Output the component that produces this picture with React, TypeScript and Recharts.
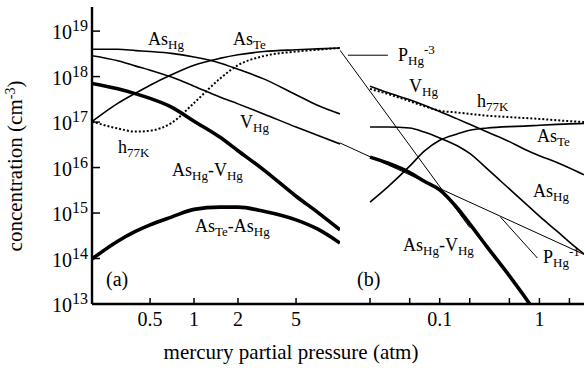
import { Line, LineChart, ReferenceLine, XAxis, YAxis } from 'recharts';

const FONT = '"Liberation Serif", "Times New Roman", serif';

// panel (a): mercury partial pressure (atm)
const pressureA = [0.2, 0.3, 0.4, 0.5, 0.7, 1, 1.5, 2, 3, 5, 7, 10];
// log10 of the concentration (cm-3)
const asHgA = [18.6, 18.6, 18.57, 18.55, 18.51, 18.43, 18.3, 18.16, 17.95, 17.6, 17.37, 17.18];
const asTeA = [17.01, 17.41, 17.64, 17.81, 18.04, 18.25, 18.4, 18.48, 18.55, 18.59, 18.61, 18.63];
const vHgA = [18.46, 18.35, 18.23, 18.14, 17.99, 17.79, 17.55, 17.4, 17.18, 16.89, 16.71, 16.52];
const h77A = [17.01, 16.86, 16.79, 16.81, 16.98, 17.42, 17.95, 18.25, 18.45, 18.55, 18.59, 18.63];
const asVA = [17.85, 17.73, 17.62, 17.52, 17.33, 17.02, 16.67, 16.37, 15.95, 15.37, 15.02, 14.63];
const asAsA = [13.99, 14.38, 14.6, 14.74, 14.91, 15.08, 15.13, 15.13, 15.04, 14.85, 14.65, 14.34];

// panel (b)
const pressureB = [0.02, 0.03, 0.05, 0.07, 0.1, 0.15, 0.2, 0.3, 0.5, 0.7, 1, 1.5, 2, 2.8];
const vHgB = [17.79, 17.65, 17.49, 17.37, 17.23, 17.07, 16.95, 16.78, 16.57, 16.41, 16.26, 16.11, 15.99, 15.84];
const h77B = [17.73, 17.62, 17.46, 17.35, 17.25, 17.21, 17.18, 17.14, 17.11, 17.09, 17.07, 17.04, 17.02, 17.0];
const asHgB = [16.89, 16.89, 16.87, 16.78, 16.65, 16.48, 16.31, 15.97, 15.53, 15.24, 14.93, 14.6, 14.36, 14.1];
const asTeB = [15.24, 15.57, 16.03, 16.36, 16.6, 16.74, 16.82, 16.87, 16.9, 16.91, 16.93, 16.95, 16.96, 16.97];
const pressureAsVB = [0.02, 0.03, 0.05, 0.07, 0.1, 0.15, 0.2, 0.3, 0.5, 0.7, 0.8];
const asVB = [16.23, 16.1, 15.89, 15.7, 15.51, 15.11, 14.76, 14.25, 13.62, 13.18, 13.0];
const pressureP3 = [0.01, 0.2];
const p3 = [18.58, 14.68];
const pressureP1 = [0.01, 2.8];
const p1 = [16.54, 14.09];

const decadeTicks = [1e13, 1e14, 1e15, 1e16, 1e17, 1e18, 1e19];
const ticksA = [0.5, 1, 2, 5];
const ticksB = [0.02, 0.05, 0.1, 0.2, 0.5, 1, 2];
const labelsB = [0.1, 1];

const Y_DOMAIN: [number, number] = [1e13, Math.pow(10, 19.53)];

function rows(xs: number[], exps: number[]) {
  return xs.map((p, i) => ({ p, c: Math.pow(10, exps[i]) }));
}

const AXIS = { stroke: '#000', strokeWidth: 2.4 };
const TICK = { stroke: '#000', strokeWidth: 1.5 };
const blank = () => '';

function PowTick(props: any) {
  const { x, y, payload } = props;
  const e = Math.round(Math.log10(payload.value));
  return (
    <text x={x} y={y + 8} textAnchor="end" fontFamily={FONT} fontSize={20} fill="#000">
      10
      <tspan dy={-8} fontSize={16}>
        {e}
      </tspan>
    </text>
  );
}

type Part = [string, 'n' | 'sub' | 'sup'];

function Label({ x, y, parts, size = 18 }: { x: number; y: number; parts: Part[]; size?: number }) {
  let shift = 0;
  return (
    <text x={x} y={y} fontSize={size} fontFamily={FONT} fill="#000">
      {parts.map(([t, k], i) => {
        const target = k === 'sub' ? 4 : k === 'sup' ? -7 : 0;
        const dy = target - shift;
        shift = target;
        return (
          <tspan key={i} dy={dy} fontSize={k === 'n' ? size : Math.round(size * 0.7)}>
            {t}
          </tspan>
        );
      })}
    </text>
  );
}

const thin = { stroke: '#000', strokeWidth: 1.6, dot: false, isAnimationActive: false } as const;
const thick = { stroke: '#000', strokeWidth: 3.6, dot: false, isAnimationActive: false } as const;
const dotted = { stroke: '#000', strokeWidth: 2, strokeDasharray: '2 2', dot: false, isAnimationActive: false } as const;
const hair = { stroke: '#000', strokeWidth: 1, dot: false, isAnimationActive: false } as const;

export default function App() {
  return (
    <div style={{ position: 'absolute', left: 0, top: 0, width: 585, height: 379, background: '#fff' }}>
      <div style={{ position: 'absolute', left: 0, top: 0 }}>
        <LineChart width={341} height={379} margin={{ top: 7, right: 1, left: 0, bottom: 0 }}>
          <XAxis
            xAxisId="b"
            dataKey="p"
            type="number"
            scale="log"
            domain={[0.2, 10]}
            allowDataOverflow
            ticks={ticksA}
            interval={0}
            height={75}
            tickSize={-6}
            tickMargin={13.5}
            axisLine={AXIS}
            tickLine={TICK}
            tick={{ fontSize: 20, fill: '#000', fontFamily: FONT }}
          />
          <XAxis
            xAxisId="t"
            orientation="top"
            dataKey="p"
            type="number"
            scale="log"
            domain={[0.2, 10]}
            allowDataOverflow
            ticks={ticksA}
            interval={0}
            height={0}
            tickSize={-5}
            axisLine={AXIS}
            tickLine={TICK}
            tickFormatter={blank}
          />
          <YAxis
            yAxisId="l"
            type="number"
            scale="log"
            domain={Y_DOMAIN}
            allowDataOverflow
            ticks={decadeTicks}
            interval={0}
            width={92}
            tickSize={-8}
            tickMargin={12}
            axisLine={AXIS}
            tickLine={TICK}
            tick={<PowTick />}
          />
          <YAxis
            yAxisId="r"
            orientation="right"
            type="number"
            scale="log"
            domain={Y_DOMAIN}
            allowDataOverflow
            ticks={decadeTicks}
            interval={0}
            width={0}
            tickSize={-7}
            axisLine={AXIS}
            tickLine={TICK}
            tickFormatter={blank}
          />
          <Line xAxisId="b" yAxisId="l" data={rows(pressureA, asHgA)} dataKey="c" type="monotone" {...thin} />
          <Line xAxisId="b" yAxisId="l" data={rows(pressureA, asTeA)} dataKey="c" type="monotone" {...thin} />
          <Line xAxisId="b" yAxisId="l" data={rows(pressureA, vHgA)} dataKey="c" type="monotone" {...thin} />
          <Line xAxisId="b" yAxisId="l" data={rows(pressureA, h77A)} dataKey="c" type="monotone" {...dotted} />
          <Line xAxisId="b" yAxisId="l" data={rows(pressureA, asVA)} dataKey="c" type="monotone" {...thick} />
          <Line xAxisId="b" yAxisId="l" data={rows(pressureA, asAsA)} dataKey="c" type="monotone" {...thick} />
        </LineChart>
      </div>
      <div style={{ position: 'absolute', left: 340, top: 0 }}>
        <LineChart width={245} height={379} margin={{ top: 7, right: 1, left: 0, bottom: 0 }}>
          <XAxis
            xAxisId="b"
            dataKey="p"
            type="number"
            scale="log"
            domain={[0.01, 2.8]}
            allowDataOverflow
            ticks={ticksB}
            interval={0}
            height={75}
            tickSize={-6}
            tickMargin={13.5}
            axisLine={AXIS}
            tickLine={TICK}
            tick={{ fontSize: 20, fill: '#000', fontFamily: FONT }}
            tickFormatter={(v: number) => (labelsB.includes(v) ? String(v) : '')}
          />
          <XAxis
            xAxisId="t"
            orientation="top"
            dataKey="p"
            type="number"
            scale="log"
            domain={[0.01, 2.8]}
            allowDataOverflow
            ticks={ticksB}
            interval={0}
            height={0}
            tickSize={-5}
            axisLine={AXIS}
            tickLine={TICK}
            tickFormatter={blank}
          />
          <YAxis
            yAxisId="l"
            type="number"
            scale="log"
            domain={Y_DOMAIN}
            allowDataOverflow
            ticks={decadeTicks}
            interval={0}
            width={0}
            tickSize={-7}
            axisLine={AXIS}
            tickLine={TICK}
            tickFormatter={blank}
          />
          <YAxis
            yAxisId="r"
            orientation="right"
            type="number"
            scale="log"
            domain={Y_DOMAIN}
            allowDataOverflow
            ticks={decadeTicks}
            interval={0}
            width={0}
            tickSize={-7}
            axisLine={AXIS}
            tickLine={TICK}
            tickFormatter={blank}
          />
          <ReferenceLine
            xAxisId="b"
            yAxisId="l"
            segment={[
              { x: 0.012, y: Math.pow(10, 18.47) },
              { x: 0.0302, y: Math.pow(10, 18.47) },
            ]}
            stroke="#000"
            strokeWidth={1}
          />
          <ReferenceLine
            xAxisId="b"
            yAxisId="l"
            segment={[
              { x: 0.407, y: Math.pow(10, 14.91) },
              { x: 0.955, y: Math.pow(10, 14.01) },
            ]}
            stroke="#000"
            strokeWidth={1}
          />
          <Line xAxisId="b" yAxisId="l" data={rows(pressureP3, p3)} dataKey="c" type="linear" {...hair} />
          <Line xAxisId="b" yAxisId="l" data={rows(pressureP1, p1)} dataKey="c" type="linear" {...hair} />
          <Line xAxisId="b" yAxisId="l" data={rows(pressureB, vHgB)} dataKey="c" type="monotone" {...thin} />
          <Line xAxisId="b" yAxisId="l" data={rows(pressureB, h77B)} dataKey="c" type="monotone" {...dotted} />
          <Line xAxisId="b" yAxisId="l" data={rows(pressureB, asHgB)} dataKey="c" type="monotone" {...thin} />
          <Line xAxisId="b" yAxisId="l" data={rows(pressureB, asTeB)} dataKey="c" type="monotone" {...thin} />
          <Line xAxisId="b" yAxisId="l" data={rows(pressureAsVB, asVB)} dataKey="c" type="monotone" {...thick} />
        </LineChart>
      </div>
      <svg
        width={585}
        height={379}
        style={{ position: 'absolute', left: 0, top: 0, pointerEvents: 'none' }}
      >
        <text
          transform="translate(22,166) rotate(-90)"
          textAnchor="middle"
          fontFamily={FONT}
          fontSize={21}
          fill="#000"
        >
          concentration (cm
          <tspan dy={-7} fontSize={14}>
            -3
          </tspan>
          <tspan dy={7}>)</tspan>
        </text>
        <text x={291} y={359} textAnchor="middle" fontFamily={FONT} fontSize={21} fill="#000">
          mercury partial pressure (atm)
        </text>
        <Label x={148} y={45} parts={[['As', 'n'], ['Hg', 'sub']]} />
        <Label x={233} y={45} parts={[['As', 'n'], ['Te', 'sub']]} />
        <Label x={240} y={128} parts={[['V', 'n'], ['Hg', 'sub']]} />
        <Label x={118} y={153} parts={[['h', 'n'], ['77K', 'sub']]} />
        <Label x={172} y={176} parts={[['As', 'n'], ['Hg', 'sub'], ['-V', 'n'], ['Hg', 'sub']]} />
        <Label x={195} y={232} parts={[['As', 'n'], ['Te', 'sub'], ['-As', 'n'], ['Hg', 'sub']]} />
        <Label x={106} y={286} size={20} parts={[['(a)', 'n']]} />
        <Label x={398} y={61} parts={[['P', 'n'], ['Hg', 'sub'], ['-3', 'sup']]} />
        <Label x={409} y={92} parts={[['V', 'n'], ['Hg', 'sub']]} />
        <Label x={477} y={107} parts={[['h', 'n'], ['77K', 'sub']]} />
        <Label x={537} y={142} parts={[['As', 'n'], ['Te', 'sub']]} />
        <Label x={533} y={197} parts={[['As', 'n'], ['Hg', 'sub']]} />
        <Label x={403} y={251} parts={[['As', 'n'], ['Hg', 'sub'], ['-V', 'n'], ['Hg', 'sub']]} />
        <Label x={543} y={263} parts={[['P', 'n'], ['Hg', 'sub'], ['-1', 'sup']]} />
        <Label x={357} y={286} size={20} parts={[['(b)', 'n']]} />
      </svg>
    </div>
  );
}
